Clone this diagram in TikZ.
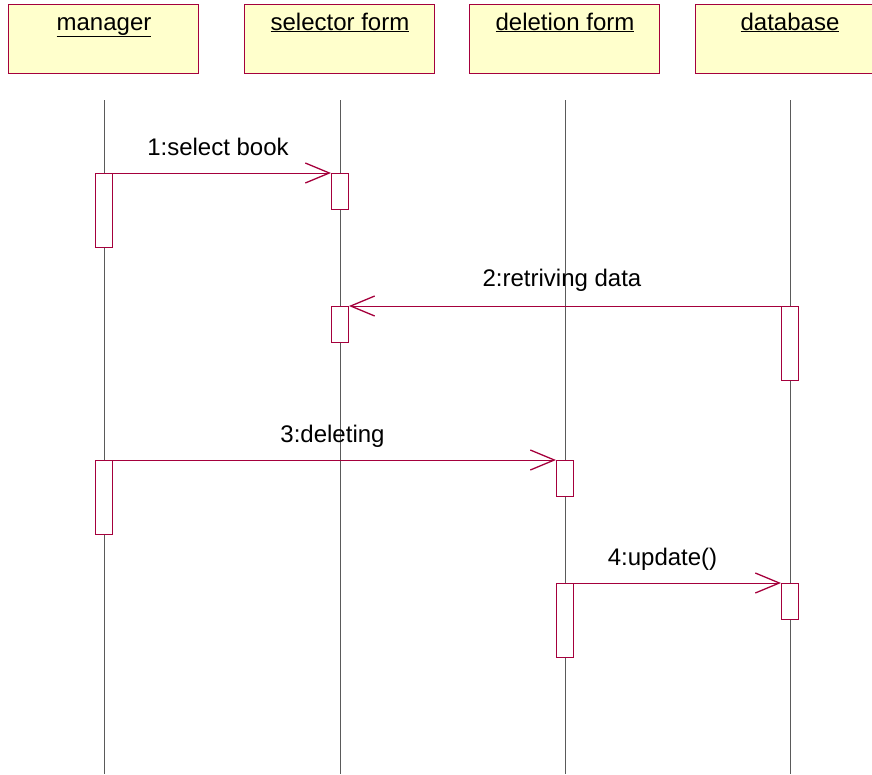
\documentclass[tikz,border=0pt]{standalone}
\usepackage{fontspec}
\setmainfont{Liberation Sans}
\usetikzlibrary{arrows.meta,positioning}
\definecolor{umlred}{RGB}{165,0,60}
\definecolor{umlyellow}{RGB}{255,255,204}
\definecolor{lifegray}{RGB}{90,90,90}
\tikzset{
  objbox/.style={draw=umlred,fill=umlyellow,line width=1pt,minimum width=190pt,minimum height=69pt,inner sep=0pt},
  objname/.style={anchor=base,font=\fontsize{24}{28}\selectfont,inner sep=0pt},
  actbar/.style={draw=umlred,fill=white,line width=1pt,minimum width=17pt,inner sep=0pt},
  msg/.style={draw=umlred,line width=1pt,-{Straight Barb[length=24pt,width=20pt,line width=1.3pt]}},
  msgtext/.style={anchor=base,font=\fontsize{24}{28}\selectfont,inner sep=0pt}
}
\begin{document}
\begin{tikzpicture}[x=1pt,y=-1pt]
\useasboundingbox (0,0) rectangle (872,774);
% objects
\node[objbox] (manager) at (103,38.5){};
\node[objbox] (selector) at (339,38.5){};
\node[objbox] (deletion) at (564,38.5){};
\node[objbox] (database) at (790,38.5){};
\node[objname] (managername) at (104,30){\underline{manager}};
\node[objname] (selectorname) at (340,30){\underline{selector form}};
\node[objname] (deletionname) at (565,30){\underline{deletion form}};
\node[objname] (databasename) at (790,30){\underline{database}};
% lifelines
\foreach \x/\n in {104/mgr,340/sel,565/del,790/db}{
  \coordinate (\n top) at (\x,100);
  \coordinate (\n bot) at (\x,774);
  \draw[lifegray,line width=1pt](\n top)--(\n bot);
}
% activation bars
\node[actbar,minimum height=74pt,anchor=north] (mgr1) at (104,173){};
\node[actbar,minimum height=36pt,anchor=north] (sel1) at (340,173){};
\node[actbar,minimum height=36pt,anchor=north] (sel2) at (340,306){};
\node[actbar,minimum height=74pt,anchor=north] (db1) at (790,306){};
\node[actbar,minimum height=74pt,anchor=north] (mgr2) at (104,460){};
\node[actbar,minimum height=36pt,anchor=north] (del1) at (565,460){};
\node[actbar,minimum height=74pt,anchor=north] (del2) at (565,583){};
\node[actbar,minimum height=36pt,anchor=north] (db2) at (790,583){};
% messages
\draw[msg](mgr1.north east)--(sel1.north west) node[msgtext,midway,yshift=18pt,xshift=-4pt] (m1){1:select book};
\draw[msg](db1.north west)--(sel2.north east) node[msgtext,midway,yshift=20pt,xshift=-3pt] (m2){2:retriving data};
\draw[msg](mgr2.north east)--(del1.north west) node[msgtext,midway,yshift=18pt,xshift=-2pt] (m3){3:deleting};
\draw[msg](del2.north east)--(db2.north west) node[msgtext,midway,yshift=18pt,xshift=-15pt] (m4){4:update()};
\end{tikzpicture}
\end{document}
